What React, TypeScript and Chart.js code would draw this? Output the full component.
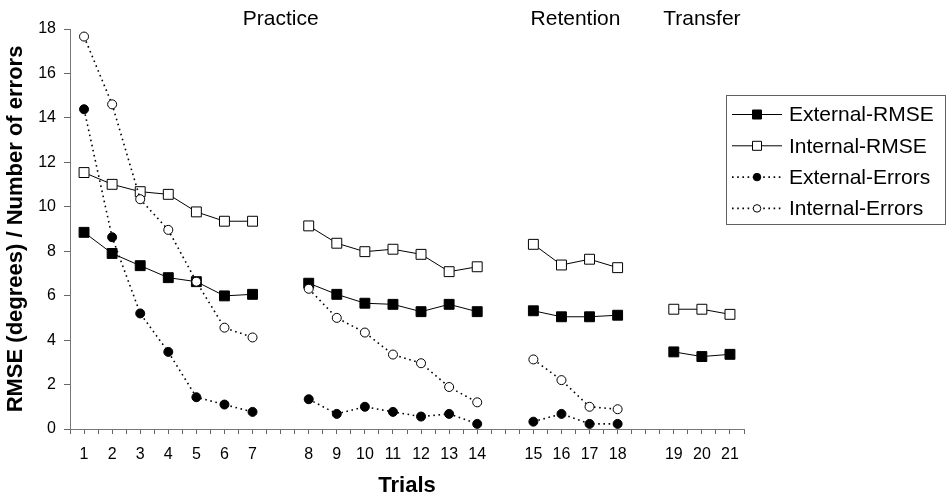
import React, { useEffect, useRef } from 'react';
import { Chart, registerables } from 'chart.js';

Chart.register(...registerables);

// Category slots along the x axis ('' = blank gap between blocks)
const categories = ['1', '2', '3', '4', '5', '6', '7', '', '8', '9', '10', '11', '12', '13', '14', '', '15', '16', '17', '18', '', '19', '20', '21'];
const groupNames = ['Practice', 'Retention', 'Transfer'];
const groupTrialCounts = [14, 4, 3];

// Values per trial (trial 1..21)
const externalRMSE = [8.85, 7.9, 7.35, 6.81, 6.63, 5.99, 6.06, 6.56, 6.06, 5.66, 5.61, 5.28, 5.61, 5.28, 5.32, 5.05, 5.05, 5.12, 3.47, 3.26, 3.36];
const internalRMSE = [11.54, 11.01, 10.68, 10.56, 9.77, 9.35, 9.35, 9.14, 8.36, 7.98, 8.09, 7.86, 7.08, 7.3, 8.31, 7.38, 7.64, 7.26, 5.39, 5.39, 5.16];
const externalErrors = [14.39, 8.63, 5.2, 3.47, 1.43, 1.1, 0.77, 1.34, 0.68, 1.0, 0.77, 0.56, 0.68, 0.23, 0.33, 0.68, 0.23, 0.23];
const internalErrors = [17.66, 14.61, 10.34, 8.96, 6.63, 4.56, 4.12, 6.31, 5.0, 4.34, 3.35, 2.96, 1.89, 1.2, 3.13, 2.2, 1.0, 0.89];

const yMin = 0;
const yMax = 18;
const yStep = 2;

const FONT = "'Liberation Sans', Arial, Helvetica, sans-serif";

// x position (1-based slot) of each trial
function trialSlots() {
  const slots: number[] = [];
  categories.forEach((c, i) => { if (c !== '') slots.push(i + 1); });
  return slots;
}

function buildPoints(values: number[]) {
  const pts: { x: number; y: number | null }[] = [];
  let t = 0;
  categories.forEach((c, i) => {
    if (c === '') {
      pts.push({ x: i + 1, y: null });
    } else {
      const v = values[t];
      pts.push({ x: i + 1, y: v === undefined ? null : v });
      t++;
    }
  });
  return pts;
}

function drawMarker(ctx: CanvasRenderingContext2D, style: string, x: number, y: number, size: number, fill: string) {
  ctx.save();
  ctx.fillStyle = fill;
  ctx.strokeStyle = '#000';
  ctx.lineWidth = 1;
  ctx.setLineDash([]);
  ctx.beginPath();
  if (style === 'rect') {
    ctx.rect(x - size / 2, y - size / 2, size, size);
  } else {
    ctx.arc(x, y, size / 2, 0, Math.PI * 2);
  }
  ctx.fill();
  ctx.stroke();
  ctx.restore();
}

const overlayPlugin = {
  id: 'overlay',
  afterDraw(chart: any) {
    const ctx: CanvasRenderingContext2D = chart.ctx;
    const xs = chart.scales.x;
    const slots = trialSlots();
    // block titles
    ctx.save();
    ctx.font = `21px ${FONT}`;
    ctx.fillStyle = '#000';
    ctx.textAlign = 'center';
    ctx.textBaseline = 'middle';
    let t = 0;
    groupNames.forEach((name, i) => {
      const a = slots[t];
      const b = slots[t + groupTrialCounts[i] - 1];
      t += groupTrialCounts[i];
      const cx = xs.getPixelForValue((a + b) / 2);
      ctx.fillText(name, cx, 19);
    });
    ctx.restore();

    // legend
    const boxL = 726.5, boxT = 95.5, boxR = 945.5, boxB = 224.5;
    ctx.save();
    ctx.fillStyle = '#fff';
    ctx.fillRect(boxL, boxT, boxR - boxL, boxB - boxT);
    ctx.strokeStyle = '#606060';
    ctx.lineWidth = 1;
    ctx.strokeRect(boxL, boxT, boxR - boxL, boxB - boxT);
    ctx.restore();
    chart.data.datasets.forEach((ds: any, i: number) => {
      const y = 114.5 + i * 31.3;
      ctx.save();
      ctx.strokeStyle = '#000';
      ctx.lineWidth = ds.borderWidth;
      ctx.setLineDash(ds.borderDash || []);
      ctx.beginPath();
      ctx.moveTo(732, y);
      ctx.lineTo(782, y);
      ctx.stroke();
      ctx.restore();
      drawMarker(ctx, ds.pointStyle, 757, y, ds.pointStyle === 'rect' ? 9 : 7.5, ds.pointBackgroundColor);
      ctx.save();
      ctx.font = `21px ${FONT}`;
      ctx.fillStyle = '#000';
      ctx.textAlign = 'left';
      ctx.textBaseline = 'middle';
      ctx.fillText(ds.label, 789, y + 1);
      ctx.restore();
    });
  },
};

export default function App() {
  const ref = useRef<HTMLCanvasElement | null>(null);
  useEffect(() => {
    document.body.style.margin = '0';
    if (!ref.current) return;
    Chart.defaults.font.family = FONT;
    const chart = new Chart(ref.current, {
      type: 'line',
      data: {
        datasets: [
          {
            label: 'External-RMSE',
            data: buildPoints(externalRMSE),
            borderColor: '#000',
            borderWidth: 1,
            pointStyle: 'rect',
            pointRadius: 7,
            pointBackgroundColor: '#000',
            pointBorderColor: '#000',
            pointBorderWidth: 1,
            spanGaps: false,
            order: 2,
          },
          {
            label: 'Internal-RMSE',
            data: buildPoints(internalRMSE),
            borderColor: '#000',
            borderWidth: 1,
            pointStyle: 'rect',
            pointRadius: 7,
            pointBackgroundColor: '#fff',
            pointBorderColor: '#000',
            pointBorderWidth: 1,
            spanGaps: false,
            order: 2,
          },
          {
            label: 'External-Errors',
            data: buildPoints(externalErrors),
            borderColor: '#000',
            borderWidth: 1.6,
            borderDash: [1.6, 3.6],
            pointStyle: 'circle',
            pointRadius: 4.5,
            pointBackgroundColor: '#000',
            pointBorderColor: '#000',
            pointBorderWidth: 1,
            spanGaps: false,
            order: 1,
          },
          {
            label: 'Internal-Errors',
            data: buildPoints(internalErrors),
            borderColor: '#000',
            borderWidth: 1.6,
            borderDash: [1.6, 3.6],
            pointStyle: 'circle',
            pointRadius: 4.5,
            pointBackgroundColor: '#fff',
            pointBorderColor: '#000',
            pointBorderWidth: 1,
            spanGaps: false,
            order: 1,
          },
        ],
      },
      options: {
        animation: false,
        responsive: false,
        layout: { padding: { top: 29, right: 202, left: 0, bottom: 0 } },
        plugins: {
          legend: { display: false },
          tooltip: { enabled: false },
        },
        scales: {
          x: {
            type: 'linear',
            min: 0.5,
            max: categories.length + 0.5,
            afterFit: (s: any) => { s.height = 68; },
            ticks: {
              stepSize: 0.5,
              autoSkip: false,
              maxRotation: 0,
              minRotation: 0,
              padding: 11,
              color: '#000',
              font: { size: 16 },
              callback: (v: any) => {
                const n = Number(v);
                if (Math.abs(n - Math.round(n)) > 1e-6) return '';
                return categories[Math.round(n) - 1] ?? '';
              },
            },
            grid: { drawOnChartArea: false, drawTicks: true, tickLength: 5, color: '#666' },
            border: { display: true, color: '#777', width: 1 },
            title: {
              display: true,
              text: 'Trials',
              color: '#000',
              font: { size: 22, weight: 'bold' },
              padding: { top: 0, bottom: -2 },
            },
          },
          y: {
            min: yMin,
            max: yMax,
            afterFit: (s: any) => { s.width = 70; },
            ticks: { stepSize: yStep, padding: 8, color: '#000', font: { size: 16 } },
            grid: { drawOnChartArea: false, drawTicks: true, tickLength: 6, color: '#666' },
            border: { display: true, color: '#777', width: 1 },
            title: {
              display: true,
              text: 'RMSE (degrees) / Number of errors',
              color: '#000',
              font: { size: 22, weight: 'bold' },
              padding: { top: 3, bottom: 0 },
            },
          },
        },
      } as any,
      plugins: [overlayPlugin],
    });
    return () => chart.destroy();
  }, []);
  return (
    <div style={{ width: 946, height: 497 }}>
      <canvas ref={ref} width={946} height={497} style={{ display: 'block' }} />
    </div>
  );
}
